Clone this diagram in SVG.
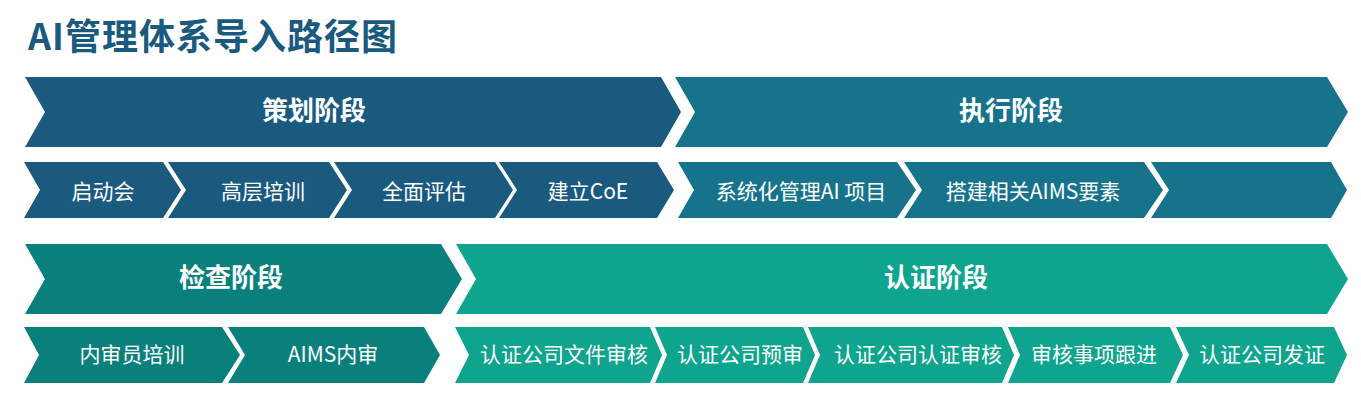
<svg xmlns="http://www.w3.org/2000/svg" width="1361" height="403" viewBox="0 0 1361 403">
<style>
.t{font-family:"Noto Sans CJK SC","Noto Sans",sans-serif;fill:#fff;text-anchor:middle}
.m{font-size:26px;font-weight:700}
.s{font-size:21px;font-weight:400}
.c1{fill:#1a5a7f}
.c2{fill:#16738b}
.c3{fill:#0a807c}
.c4{fill:#0ea48d}
</style>
<rect width="1361" height="403" fill="#fff"/>
<text x="28" y="50" font-family="'Noto Sans CJK SC','Noto Sans',sans-serif" font-size="36" font-weight="700" fill="#1a5a7e" textLength="369" lengthAdjust="spacing">AI管理体系导入路径图</text>

<g id="phase-plan">
<polygon class="c1" points="25,77 661,77 681,112 661,147 25,147 45,112"/>
<text class="t m" x="314" y="120">策划阶段</text>
</g>
<g id="phase-exec">
<polygon class="c2" points="675,77 1327,77 1348,112 1327,147 675,147 695,112"/>
<text class="t m" x="1011" y="120">执行阶段</text>
</g>
<g id="phase-check">
<polygon class="c3" points="25,244 441,244 462,279 441,314 25,314 45,279"/>
<text class="t m" x="231" y="286.5">检查阶段</text>
</g>
<g id="phase-cert">
<polygon class="c4" points="456,244 1327,244 1348,279 1327,314 456,314 476,279"/>
<text class="t m" x="936" y="286.5">认证阶段</text>
</g>

<g id="s1">
<polygon class="c1" points="24,162 163,162 181,190 163,218 24,218 40,190"/>
<text class="t s" x="103" y="198.5">启动会</text>
</g>
<g id="s2">
<polygon class="c1" points="168,162 329,162 347,190 329,218 168,218 186,190"/>
<text class="t s" x="263" y="198.5">高层培训</text>
</g>
<g id="s3">
<polygon class="c1" points="334,162 495,162 513,190 495,218 334,218 352,190"/>
<text class="t s" x="424" y="198.5">全面评估</text>
</g>
<g id="s4">
<polygon class="c1" points="499,162 657,162 674,190 657,218 499,218 517,190"/>
<text class="t s" x="588" y="198.5">建立CoE</text>
</g>
<g id="s5">
<polygon class="c2" points="678,162 897,162 916,190 897,218 678,218 694,190"/>
<text class="t s" x="801" y="198.5">系统化管理AI 项目</text>
</g>
<g id="s6">
<polygon class="c2" points="904,162 1144,162 1163,190 1144,218 904,218 922,190"/>
<text class="t s" x="1033" y="198.5">搭建相关AIMS要素</text>
</g>
<g id="s7">
<polygon class="c2" points="1151,162 1331,162 1347,190 1331,218 1151,218 1169,190"/>
</g>

<g id="r1">
<polygon class="c3" points="24,327 222,327 240,355 222,383 24,383 39,355"/>
<text class="t s" x="132" y="362">内审员培训</text>
</g>
<g id="r2">
<polygon class="c3" points="228,327 424,327 440,355 424,383 228,383 245,355"/>
<text class="t s" x="333" y="362">AIMS内审</text>
</g>
<g id="r3">
<polygon class="c4" points="455,327 650,327 662,355 650,383 455,383 469,355"/>
<text class="t s" x="564" y="362">认证公司文件审核</text>
</g>
<g id="r4">
<polygon class="c4" points="655,327 803,327 815,355 803,383 655,383 667,355"/>
<text class="t s" x="740" y="362">认证公司预审</text>
</g>
<g id="r5">
<polygon class="c4" points="808,327 1002,327 1014,355 1002,383 808,383 820,355"/>
<text class="t s" x="918" y="362">认证公司认证审核</text>
</g>
<g id="r6">
<polygon class="c4" points="1008,327 1170,327 1183,355 1170,383 1008,383 1020,355"/>
<text class="t s" x="1094" y="362">审核事项跟进</text>
</g>
<g id="r7">
<polygon class="c4" points="1176,327 1334,327 1347,355 1334,383 1176,383 1189,355"/>
<text class="t s" x="1262" y="362">认证公司发证</text>
</g>
<g id="connectors"/>
</svg>
